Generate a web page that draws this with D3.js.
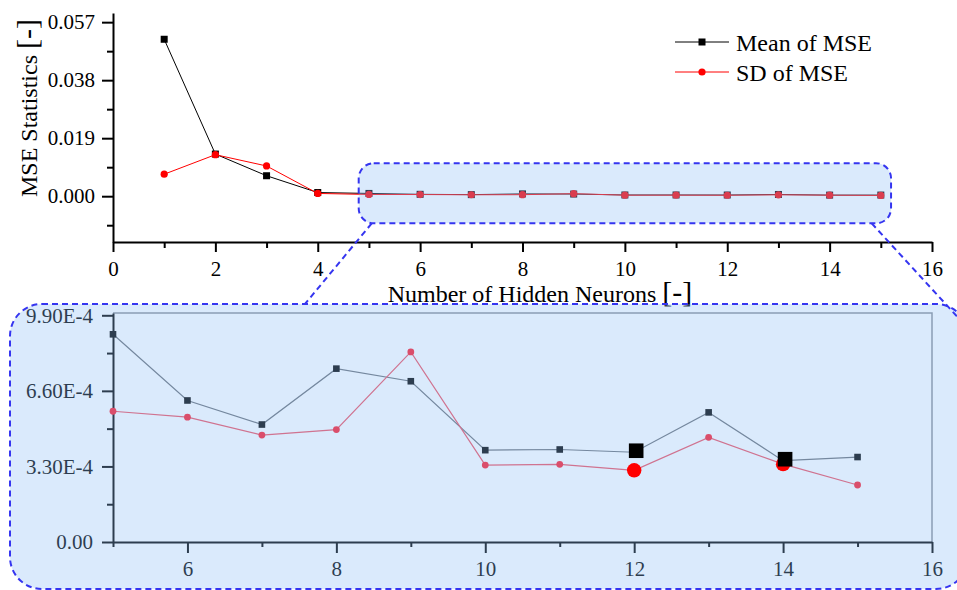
<!DOCTYPE html>
<html>
<head>
<meta charset="utf-8">
<script src="https://cdn.jsdelivr.net/npm/d3@7/dist/d3.min.js"></script>
<style>
  html, body { margin: 0; padding: 0; background: #fff; }
  svg { display: block; }
</style>
</head>
<body>
<svg id="chart" width="957" height="590" font-family="Liberation Serif"></svg>
<script>
// Number of hidden neurons and MSE statistics over repeated trainings
const neurons = [1, 2, 3, 4, 5, 6, 7, 8, 9, 10, 11, 12, 13, 14, 15];
const meanMSE = [0.0514, 0.0138, 0.0067, 0.0012, 9.07e-4, 6.18e-4, 5.13e-4, 7.57e-4, 7.02e-4, 4.01e-4, 4.04e-4, 3.92e-4, 5.66e-4, 3.55e-4, 3.71e-4];
const sdMSE   = [0.0072, 0.0136, 0.0099, 0.0009, 5.71e-4, 5.45e-4, 4.67e-4, 4.91e-4, 8.30e-4, 3.36e-4, 3.39e-4, 3.13e-4, 4.57e-4, 3.40e-4, 2.49e-4];
const highlighted = [12, 14];

// Tick values
const topYMajor = [0, 0.019, 0.038, 0.057];
const topYMinor = [-0.0095, 0.0095, 0.0285, 0.0475];
const topYLabels = ["0.000", "0.019", "0.038", "0.057"];
const topXMajor = [0, 2, 4, 6, 8, 10, 12, 14, 16];
const topXMinor = [1, 3, 5, 7, 9, 11, 13, 15];
const botYMajor = [0, 3.3e-4, 6.6e-4, 9.9e-4];
const botYMinor = [1.65e-4, 4.95e-4, 8.25e-4];
const botYLabels = ["0.00", "3.30E-4", "6.60E-4", "9.90E-4"];
const botXMajor = [6, 8, 10, 12, 14, 16];
const botXMinor = [5, 7, 9, 11, 13, 15];

const seriesNames = ["Mean of MSE", "SD of MSE"];

const FONT = "Liberation Serif";
const svg = d3.select("#chart");
const rows = neurons.map((n, i) => ({ n, mean: meanMSE[i], sd: sdMSE[i] }));

// ---------- upper panel: full range ----------
const xTop = d3.scaleLinear().domain([0, 16]).range([113, 932]);
const yTop = d3.scaleLinear().domain([-0.015, 0.06]).range([242, 13]);

const topG = svg.append("g");

function styleAxis(g, color, width, fontSize) {
  g.attr("font-family", FONT).attr("font-size", fontSize);
  g.select(".domain").attr("stroke", color).attr("stroke-width", width);
  g.selectAll(".tick line").attr("stroke", color).attr("stroke-width", width);
  g.selectAll(".tick text").attr("fill", color)
    .attr("font-family", FONT).attr("font-size", fontSize);
}

// x axis
topG.append("g").attr("transform", `translate(0,${yTop(-0.015)})`)
  .call(d3.axisBottom(xTop).tickValues(topXMinor).tickSize(6).tickFormat(""))
  .call(g => { styleAxis(g, "#000", 2, 21); g.select(".domain").remove(); });
topG.append("g").attr("transform", `translate(0,${yTop(-0.015)})`)
  .call(d3.axisBottom(xTop).tickValues(topXMajor).tickSize(10).tickSizeOuter(0).tickPadding(9).tickFormat(d3.format("d")))
  .call(g => styleAxis(g, "#000", 2, 21));

// y axis
topG.append("g").attr("transform", `translate(${xTop(0)},0)`)
  .call(d3.axisLeft(yTop).tickValues(topYMinor).tickSize(6).tickFormat(""))
  .call(g => { styleAxis(g, "#000", 2, 21); g.select(".domain").remove(); });
topG.append("g").attr("transform", `translate(${xTop(0)},0)`)
  .call(d3.axisLeft(yTop).tickValues(topYMajor).tickSize(11).tickSizeOuter(0).tickPadding(7)
        .tickFormat((d, i) => topYLabels[i]))
  .call(g => styleAxis(g, "#000", 2, 21));

// axis titles
topG.append("text")
  .attr("x", 540).attr("y", 302).attr("text-anchor", "middle")
  .attr("fill", "#000").attr("font-family", FONT).attr("font-size", 24)
  .call(t => {
    t.append("tspan").text("Number of Hidden Neurons ");
    t.append("tspan").attr("font-size", 30).text("[-]");
  });
topG.append("text")
  .attr("transform", "translate(37,108) rotate(-90)").attr("text-anchor", "middle")
  .attr("fill", "#000").attr("font-family", FONT).attr("font-size", 24)
  .call(t => {
    t.append("tspan").text("MSE Statistics ");
    t.append("tspan").attr("font-size", 30).text("[-]");
  });

// series
const topMeanLine = d3.line().x(d => xTop(d.n)).y(d => yTop(d.mean));
const topSdLine = d3.line().x(d => xTop(d.n)).y(d => yTop(d.sd));
topG.append("path").datum(rows).attr("d", topMeanLine)
  .attr("fill", "none").attr("stroke", "#000").attr("stroke-width", 1);
topG.append("g").selectAll("rect").data(rows).join("rect")
  .attr("x", d => xTop(d.n) - 3.5).attr("y", d => yTop(d.mean) - 3.5)
  .attr("width", 7).attr("height", 7).attr("fill", "#000");
topG.append("path").datum(rows).attr("d", topSdLine)
  .attr("fill", "none").attr("stroke", "#ff0000").attr("stroke-width", 1);
topG.append("g").selectAll("circle").data(rows).join("circle")
  .attr("cx", d => xTop(d.n)).attr("cy", d => yTop(d.sd)).attr("r", 3.6)
  .attr("fill", "#ff0000");

// legend
const legend = topG.append("g");
seriesNames.forEach((name, i) => {
  const ly = 42 + i * 30;
  const color = i === 0 ? "#000" : "#ff0000";
  legend.append("line").attr("x1", 675).attr("x2", 729).attr("y1", ly).attr("y2", ly)
    .attr("stroke", color).attr("stroke-width", 1);
  if (i === 0) {
    legend.append("rect").attr("x", 702 - 3.5).attr("y", ly - 3.5).attr("width", 7).attr("height", 7).attr("fill", color);
  } else {
    legend.append("circle").attr("cx", 702).attr("cy", ly).attr("r", 3.6).attr("fill", color);
  }
  legend.append("text").attr("x", 736).attr("y", ly + 8.5)
    .attr("fill", "#000").attr("font-family", FONT).attr("font-size", 24).text(name);
});

// zoom window on the upper panel
const zoomX = [4.8, 15.2], zoomY = [-0.0089, 0.0108];
const overlayFill = "rgb(140,190,245)", overlayOpacity = 0.32;
const dashColor = "#3535f0";
svg.append("rect")
  .attr("x", xTop(zoomX[0])).attr("y", yTop(zoomY[1]))
  .attr("width", xTop(zoomX[1]) - xTop(zoomX[0])).attr("height", yTop(zoomY[0]) - yTop(zoomY[1]))
  .attr("rx", 15).attr("ry", 15)
  .attr("fill", overlayFill).attr("fill-opacity", overlayOpacity)
  .attr("stroke", dashColor).attr("stroke-width", 2).attr("stroke-dasharray", "6,4");

// ---------- lower panel: zoomed range ----------
const xBot = d3.scaleLinear().domain([5, 16]).range([113, 932]);
const yBot = d3.scaleLinear().domain([0, 0.001]).range([542, 313]);
const botG = svg.append("g");

// frame (top/right)
botG.append("path")
  .attr("d", `M${xBot(5)},${yBot(0.001)}H${xBot(16)}V${yBot(0)}`)
  .attr("fill", "none").attr("stroke", "#8a8f96").attr("stroke-width", 1.5);

botG.append("g").attr("transform", `translate(0,${yBot(0)})`)
  .call(d3.axisBottom(xBot).tickValues(botXMinor).tickSize(5).tickFormat(""))
  .call(g => { styleAxis(g, "#000", 2, 21); g.select(".domain").remove(); });
botG.append("g").attr("transform", `translate(0,${yBot(0)})`)
  .call(d3.axisBottom(xBot).tickValues(botXMajor).tickSize(11).tickSizeOuter(0).tickPadding(8).tickFormat(d3.format("d")))
  .call(g => styleAxis(g, "#000", 2, 21));
botG.append("g").attr("transform", `translate(${xBot(5)},0)`)
  .call(d3.axisLeft(yBot).tickValues(botYMinor).tickSize(6).tickFormat(""))
  .call(g => { styleAxis(g, "#000", 2, 21); g.select(".domain").remove(); });
botG.append("g").attr("transform", `translate(${xBot(5)},0)`)
  .call(d3.axisLeft(yBot).tickValues(botYMajor).tickSize(11).tickSizeOuter(0).tickPadding(9)
        .tickFormat((d, i) => botYLabels[i]))
  .call(g => styleAxis(g, "#000", 2, 21));

const zoomRows = rows.filter(d => d.n >= 5);
botG.append("path").datum(zoomRows)
  .attr("d", d3.line().x(d => xBot(d.n)).y(d => yBot(d.mean)))
  .attr("fill", "none").attr("stroke", "#6a6f76").attr("stroke-width", 1.2);
botG.append("path").datum(zoomRows)
  .attr("d", d3.line().x(d => xBot(d.n)).y(d => yBot(d.sd)))
  .attr("fill", "none").attr("stroke", "#f05060").attr("stroke-width", 1.2);
botG.append("g").selectAll("rect").data(zoomRows).join("rect")
  .attr("x", d => xBot(d.n) - 3.3).attr("y", d => yBot(d.mean) - 3.3)
  .attr("width", 6.6).attr("height", 6.6).attr("fill", "#000");
botG.append("g").selectAll("circle").data(zoomRows).join("circle")
  .attr("cx", d => xBot(d.n)).attr("cy", d => yBot(d.sd)).attr("r", 3.4)
  .attr("fill", "#ff1a2a");

// lower panel frame overlay
svg.append("rect")
  .attr("x", 10).attr("y", 304).attr("width", 958).attr("height", 285)
  .attr("rx", 32).attr("ry", 32)
  .attr("fill", overlayFill).attr("fill-opacity", overlayOpacity)
  .attr("stroke", dashColor).attr("stroke-width", 2).attr("stroke-dasharray", "6,4");

// connectors between zoom window and lower panel
const conn = svg.append("g").attr("stroke", dashColor).attr("stroke-width", 2)
  .attr("stroke-dasharray", "6,4").attr("fill", "none");
conn.append("line").attr("x1", 371.7).attr("y1", yTop(zoomY[0])).attr("x2", 305).attr("y2", 304);
conn.append("line").attr("x1", 871.7).attr("y1", yTop(zoomY[0])).attr("x2", 975).attr("y2", 336);

// highlighted configurations
const hi = zoomRows.filter(d => highlighted.includes(d.n));
svg.append("g").selectAll("circle").data(hi).join("circle")
  .attr("cx", d => xBot(d.n)).attr("cy", d => yBot(d.sd)).attr("r", 7.2).attr("fill", "#ff0000");
svg.append("g").selectAll("rect").data(hi).join("rect")
  .attr("x", d => xBot(d.n) - 7.3 + 2).attr("y", d => yBot(d.mean) - 7.3 - 1.5)
  .attr("width", 14.6).attr("height", 14.6).attr("fill", "#000");
</script>
</body>
</html>
